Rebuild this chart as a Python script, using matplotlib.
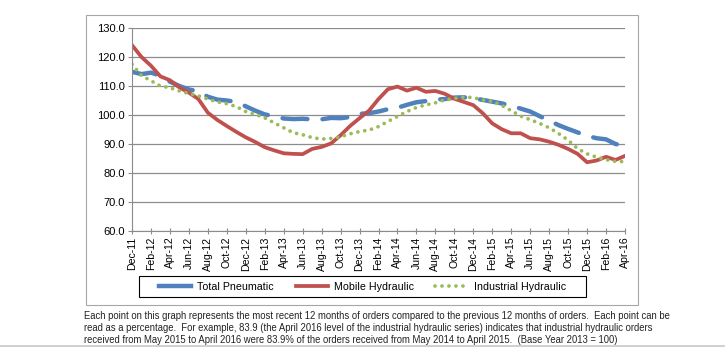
import numpy as np
import pandas as pd
import matplotlib
matplotlib.use("Agg")
import matplotlib.pyplot as plt
from matplotlib.patches import Rectangle
from matplotlib.lines import Line2D

plt.rcParams['font.family'] = ['Liberation Sans', 'DejaVu Sans']

# Months Dec-11 .. Apr-16
months = pd.date_range('2011-12-01', '2016-04-01', freq='MS').strftime('%b-%y').tolist()

total_pneumatic = [114.9, 114.1, 114.6, 113.6, 111.5, 110.0, 108.8, 108.2, 106.3, 105.3,
                   105.0, 104.5, 103.0, 101.5, 100.2, 99.6, 98.8, 98.6, 98.7, 98.5,
                   98.5, 99.0, 98.9, 99.3, 100.4, 100.6, 101.2, 102.0, 102.5, 103.5,
                   104.4, 104.8, 105.3, 105.5, 106.0, 106.1, 105.8, 105.2, 104.6, 104.0,
                   103.2, 102.2, 101.2, 99.6, 98.0, 96.5, 95.2, 94.0, 92.8, 92.0,
                   91.6, 90.0, 89.4]
mobile_hydraulic = [124.1, 120.0, 117.0, 113.3, 112.0, 109.5, 107.7, 105.5, 100.8, 98.3,
                    96.2, 94.2, 92.3, 90.7, 88.9, 87.8, 86.8, 86.6, 86.5, 88.3,
                    89.0, 90.2, 93.0, 96.2, 98.9, 101.5, 105.5, 108.9, 109.8, 108.4,
                    109.4, 108.0, 108.3, 107.3, 105.6, 104.5, 103.4, 100.6, 97.1, 95.1,
                    93.7, 93.7, 92.0, 91.6, 90.8, 89.7, 88.3, 86.6, 83.7, 84.3,
                    85.6, 84.5, 85.9]
industrial_hydraulic = [117.5, 113.6, 111.8, 110.0, 109.4, 108.3, 107.4, 106.6, 105.5, 104.5,
                        103.9, 102.9, 101.2, 100.2, 99.0, 97.3, 95.6, 93.9, 93.2, 92.2,
                        91.7, 91.9, 92.5, 93.5, 94.3, 94.8, 96.0, 97.8, 99.5, 101.2,
                        102.6, 103.5, 104.2, 105.2, 105.7, 106.2, 106.0, 105.2, 104.7, 103.3,
                        101.5, 99.6, 98.4, 97.1, 95.6, 93.6, 91.3, 88.4, 86.6, 85.5,
                        84.6, 84.0, 83.9]

series_names = ['Total Pneumatic', 'Mobile Hydraulic', 'Industrial Hydraulic']
note_lines = [
    "Each point on this graph represents the most recent 12 months of orders compared to the previous 12 months of orders.  Each point can be",
    "read as a percentage.  For example, 83.9 (the April 2016 level of the industrial hydraulic series) indicates that industrial hydraulic orders",
    "received from May 2015 to April 2016 were 83.9% of the orders received from May 2014 to April 2015.  (Base Year 2013 = 100)",
]

blue, red, green = '#4F81BD', '#C0504D', '#9BBB59'
W, H = 725, 347

fig = plt.figure(figsize=(W / 100, H / 100), dpi=100)
ax = fig.add_axes([132 / W, 1 - 231 / H, (625 - 132) / W, (231 - 28) / H])

x = np.arange(len(months))
blue_style = dict(color=blue, lw=3.2)
red_style = dict(color=red, lw=2.7, solid_joinstyle='round')
green_style = dict(color=green, lw=2.7, linestyle=(0, (0.01, 1.85)), dash_capstyle='round')

ax.plot(x, total_pneumatic, linestyle=(0, (5.6, 3.4)), dash_capstyle='round', **blue_style)
ax.plot(x, mobile_hydraulic, **red_style)
ax.plot(x, industrial_hydraulic, **green_style)

ax.set_xlim(0, len(months) - 1)
ax.set_ylim(60, 130)
yt = np.arange(60, 131, 10)
ax.set_yticks(yt)
ax.set_yticklabels([f'{v:.1f}' for v in yt], fontsize=8)
ax.set_xticks(x[::2])
ax.set_xticklabels(months[::2], rotation=90, fontsize=7.6)
ax.grid(axis='y', color='#8c8c8c', lw=0.9)
ax.set_axisbelow(True)
for s in ['top', 'right']:
    ax.spines[s].set_visible(False)
for s in ['left', 'bottom']:
    ax.spines[s].set_color('#8c8c8c')
ax.tick_params(axis='y', length=3, color='#8c8c8c', pad=2)
ax.tick_params(axis='x', length=4, direction='inout', color='#8c8c8c', pad=2)

# outer chart frame
fig.patches.append(Rectangle((86 / W, 1 - 305 / H), (638 - 86) / W, (305 - 15) / H,
                             transform=fig.transFigure, fill=False,
                             edgecolor='#a6a6a6', lw=0.8))

# legend (frame drawn separately to match the wide padding)
handles = [Line2D([], [], **blue_style), Line2D([], [], **red_style),
           Line2D([], [], **green_style)]
fig.legend(handles, series_names, loc='center',
           bbox_to_anchor=(362.5 / W, 1 - 286.5 / H), ncol=3, fontsize=7.7,
           frameon=False, handlelength=3.0, handletextpad=0.6, columnspacing=2.0)
fig.patches.append(Rectangle((139 / W, 1 - 297 / H), (586 - 139) / W, (297 - 276) / H,
                             transform=fig.transFigure, fill=False,
                             edgecolor='black', lw=0.8))

for i, line in enumerate(note_lines):
    fig.text(84 / W, 1 - (316 + 12 * i) / H, line, fontsize=6.85,
             va='center', ha='left', color='#222222')

fig.add_artist(Line2D([0, 1], [1 - 346 / H] * 2, transform=fig.transFigure,
                      color='#c8c8c8', lw=1.2))

fig.savefig('out.png', dpi=100)
